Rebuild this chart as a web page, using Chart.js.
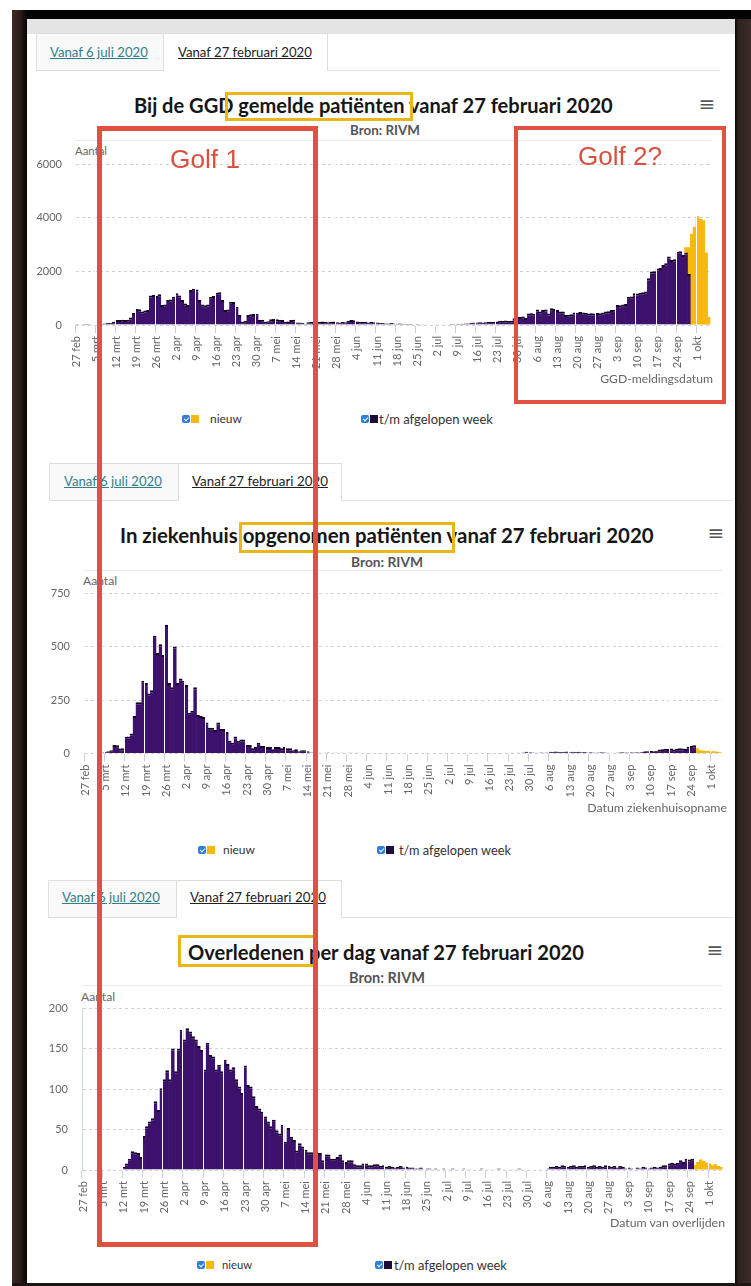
<!DOCTYPE html>
<html>
<head>
<meta charset="utf-8">
<script src="https://cdn.jsdelivr.net/npm/chart.js@4.4.1/dist/chart.umd.min.js"></script>
<style>
html,body{margin:0;padding:0;}
body{width:751px;height:1286px;position:relative;overflow:hidden;background:#fff;font-family:Lato,"Open Sans",sans-serif;}
.box{position:absolute;box-sizing:border-box;}
.t{position:absolute;white-space:nowrap;line-height:1;}
canvas{position:absolute;}
.tab1{position:absolute;box-sizing:border-box;background:#f9f9f9;border:1px solid #dedede;}
.tab2{position:absolute;box-sizing:border-box;background:#fff;border:1px solid #dedede;border-bottom:none;}
.tabline{position:absolute;height:1px;background:#e2e2e2;}
.lnk{color:#2f7f8c;text-decoration:underline;}
.act{color:#222;text-decoration:underline;}
.ttl{font-weight:700;color:#161616;}
.bron{font-weight:700;color:#555;}
.ax{color:#666;}
.lg{color:#333;}
.cb{position:absolute;width:8px;height:8px;border-radius:2px;background:#2f7fd6;}
.cb::after{content:"";position:absolute;left:2.6px;top:0.6px;width:2px;height:4.4px;border:solid #fff;border-width:0 1.4px 1.4px 0;transform:rotate(45deg);}
.sq{position:absolute;width:8px;height:8px;}
.red{position:absolute;box-sizing:border-box;border:5px solid #e2503f;z-index:20;}
.yel{position:absolute;box-sizing:border-box;border:3px solid #e8b617;z-index:15;}
.golf{font-family:"Liberation Sans",Arial,sans-serif;color:#d9503f;z-index:21;}
.ham{font-family:"DejaVu Sans",sans-serif;color:#555;}
</style>
</head>
<body>
<!-- frame -->
<div class="box" style="left:12px;top:10px;width:15px;height:1276px;background:linear-gradient(to right,#3d2925 0,#2b1c19 55%,#050303 100%);"></div>
<div class="box" style="left:26px;top:10px;width:725px;height:9px;background:#050505;"></div>
<div class="box" style="left:27px;top:19px;width:708px;height:15px;background:#e4e4e4;"></div>
<div class="box" style="left:735px;top:19px;width:16px;height:1267px;background:linear-gradient(to right,#0a0606 0,#2e211e 20%,#3b2c29 100%);"></div>
<div class="box" style="left:12px;top:1283px;width:739px;height:3px;background:#1d1514;"></div>

<!-- ===== Chart 1 ===== -->
<div class="tab1" style="left:36px;top:33px;width:128px;height:38px;"></div>
<div class="tab2" style="left:163px;top:33px;width:165px;height:38px;"></div>
<div class="tabline" style="left:328px;top:70px;width:392px;"></div>
<span class="t lnk" data-x="50" data-y="53" data-w="98" data-fs="12">Vanaf 6 juli 2020</span>
<span class="t act" data-x="178" data-y="53" data-w="134" data-fs="12">Vanaf 27 februari 2020</span>
<span class="t ttl" data-x="134" data-y="105" data-w="479" data-fs="18">Bij de GGD gemelde patiënten vanaf 27 februari 2020</span>
<span class="t bron" data-cx="385" data-y="131" data-w="70" data-fs="12">Bron: RIVM</span>
<span class="t ham" data-cx="707" data-y="104" data-fs="20">≡</span>
<span class="t ax" data-x="75" data-y="151" data-w="32" data-fs="11">Aantal</span>
<canvas id="c1" width="700" height="245" style="left:20px;top:140px;width:700px;height:245px;"></canvas>
<span class="t ax" data-rx="713" data-y="379" data-w="113" data-fs="11">GGD-meldingsdatum</span>
<div class="cb" style="left:182px;top:415px;"></div><div class="sq" style="left:190.5px;top:415px;background:#f7b90d;"></div>
<span class="t lg" data-x="210" data-y="419" data-w="32" data-fs="11">nieuw</span>
<div class="cb" style="left:361px;top:415px;"></div><div class="sq" style="left:369.5px;top:415px;background:#1d0b3a;"></div>
<span class="t lg" data-x="379" data-y="419" data-w="114" data-fs="11">t/m afgelopen week</span>

<!-- ===== Chart 2 ===== -->
<div class="tab1" style="left:49px;top:463px;width:130px;height:38px;"></div>
<div class="tab2" style="left:178px;top:463px;width:164px;height:38px;"></div>
<div class="tabline" style="left:342px;top:500px;width:391px;"></div>
<span class="t lnk" data-x="64" data-y="482" data-w="98" data-fs="12">Vanaf 6 juli 2020</span>
<span class="t act" data-x="192" data-y="482" data-w="136" data-fs="12">Vanaf 27 februari 2020</span>
<span class="t ttl" data-x="120" data-y="535" data-w="534" data-fs="18">In ziekenhuis opgenomen patiënten vanaf 27 februari 2020</span>
<span class="t bron" data-cx="387" data-y="562" data-w="72" data-fs="12">Bron: RIVM</span>
<span class="t ham" data-cx="716" data-y="533" data-fs="20">≡</span>
<span class="t ax" data-x="83" data-y="581" data-w="34" data-fs="11">Aantal</span>
<canvas id="c2" width="710" height="244" style="left:20px;top:570px;width:710px;height:244px;"></canvas>
<span class="t ax" data-rx="727" data-y="808" data-w="140" data-fs="11">Datum ziekenhuisopname</span>
<div class="cb" style="left:198px;top:846px;"></div><div class="sq" style="left:206.5px;top:846px;background:#f7b90d;"></div>
<span class="t lg" data-x="223" data-y="850" data-w="32" data-fs="11">nieuw</span>
<div class="cb" style="left:377px;top:846px;"></div><div class="sq" style="left:385.5px;top:846px;background:#1d0b3a;"></div>
<span class="t lg" data-x="399" data-y="850" data-w="112" data-fs="11">t/m afgelopen week</span>

<!-- ===== Chart 3 ===== -->
<div class="tab1" style="left:48px;top:880px;width:129px;height:38px;"></div>
<div class="tab2" style="left:176px;top:880px;width:166px;height:38px;"></div>
<div class="tabline" style="left:342px;top:917px;width:391px;"></div>
<span class="t lnk" data-x="62" data-y="898" data-w="98" data-fs="12">Vanaf 6 juli 2020</span>
<span class="t act" data-x="190" data-y="898" data-w="136" data-fs="12">Vanaf 27 februari 2020</span>
<span class="t ttl" data-x="188" data-y="952" data-w="396" data-fs="18">Overledenen per dag vanaf 27 februari 2020</span>
<span class="t bron" data-cx="387" data-y="978" data-w="76" data-fs="12">Bron: RIVM</span>
<span class="t ham" data-cx="715" data-y="950" data-fs="20">≡</span>
<span class="t ax" data-x="81" data-y="997" data-w="34" data-fs="11">Aantal</span>
<canvas id="c3" width="710" height="245" style="left:20px;top:985px;width:710px;height:245px;"></canvas>
<span class="t ax" data-rx="725" data-y="1223" data-w="115" data-fs="11">Datum van overlijden</span>
<div class="cb" style="left:197px;top:1261px;"></div><div class="sq" style="left:205.5px;top:1261px;background:#f7b90d;"></div>
<span class="t lg" data-x="222" data-y="1265" data-w="30" data-fs="11">nieuw</span>
<div class="cb" style="left:375px;top:1261px;"></div><div class="sq" style="left:383.5px;top:1261px;background:#1d0b3a;"></div>
<span class="t lg" data-x="394" data-y="1265" data-w="113" data-fs="11">t/m afgelopen week</span>

<!-- annotations -->
<div class="yel" style="left:225px;top:92px;width:188px;height:29px;"></div>
<div class="yel" style="left:239px;top:522px;width:216px;height:31px;"></div>
<div class="yel" style="left:178px;top:935px;width:138px;height:32px;"></div>
<div class="red" style="left:97px;top:126px;width:221px;height:1121px;"></div>
<div class="red" style="left:514px;top:126px;width:212px;height:278px;border-width:4px;"></div>
<span class="t golf" data-cx="205" data-y="159" data-w="70" data-fs="24">Golf 1</span>
<span class="t golf" data-cx="620" data-y="156" data-w="84" data-fs="24">Golf 2?</span>

<script>
// ---------- data ----------
const weekLabels = ['27 feb','5 mrt','12 mrt','19 mrt','26 mrt','2 apr','9 apr','16 apr','23 apr','30 apr',
  '7 mei','14 mei','21 mei','28 mei','4 jun','11 jun','18 jun','25 jun','2 jul','9 jul','16 jul','23 jul','30 jul',
  '6 aug','13 aug','20 aug','27 aug','3 sep','10 sep','17 sep','24 sep','1 okt'];
const monthNames = ['jan','feb','mrt','apr','mei','jun','jul','aug','sep','okt','nov','dec'];

// Bij de GGD gemelde patiënten (per dag vanaf 27 feb)
const ggdWeek = [1,0,5,4,4,6,14,14,20,44,
  60,80,70,120,190,190,200,190,200,280,
  450,600,590,500,540,560,1100,1120,1080,1150,
  750,760,930,950,1050,1180,1100,930,800,750,
  1300,1350,1320,930,760,740,760,1050,1080,1200,
  1220,930,560,580,870,860,680,370,120,150,
  370,400,410,420,190,200,120,140,210,220,
  210,200,190,120,130,190,200,90,90,80,
  40,100,110,100,120,110,130,120,100,110,
  130,100,90,110,100,150,190,180,130,110,
  120,110,90,120,100,90,80,70,60,60,
  70,60,50,60,50,40,40,40,30,40,
  30,30,20,20,15,20,10,0,0,10,
  15,40,40,50,40,50,60,60,80,90,
  90,100,90,100,110,120,110,130,160,150,
  170,150,160,250,310,300,320,260,430,440,
  420,580,500,560,580,430,620,600,560,500,
  500,370,380,400,470,460,480,470,460,430,
  440,430,450,440,470,500,510,560,570,750,
  740,760,780,1050,1060,1180,1170,1200,1220,1250,
  1740,1990,2000,2110,2120,2240,2300,2550,2420,2450,
  2730,2750,2610,2700,1900,0,0,0,0,0,
  0,0];
const ggdNewStart = 213;
const ggdNew = [200,1000,3400,3650,4050,3950,3900,2700,300];

// In ziekenhuis opgenomen patiënten
const hospWeek = [0,0,1,0,1,2,5,8,10,15,
  40,38,23,25,78,80,93,175,240,240,
  340,330,280,295,550,470,510,460,600,330,
  310,500,330,350,340,320,190,200,310,180,
  175,170,145,120,120,110,145,115,115,100,
  60,50,80,60,65,65,40,40,25,30,
  50,35,35,30,30,20,30,30,25,30,
  25,25,15,20,10,15,15,10,5,5,
  3,4,2,3,5,2,3,4,2,3,
  2,4,3,2,3,2,1,2,2,1,
  0,1,1,0,1,0,1,0,1,0,
  1,0,0,1,0,1,0,0,1,0,
  0,1,0,0,1,0,0,1,0,0,
  1,0,0,1,0,0,1,0,1,1,
  0,1,2,1,1,2,1,2,3,2,
  3,4,5,8,6,5,3,4,5,3,
  5,8,7,9,8,7,8,9,6,8,
  7,8,6,7,5,6,5,4,5,6,
  5,4,3,2,3,5,6,5,5,6,
  5,6,5,7,11,10,12,11,13,19,
  20,22,21,23,19,22,24,23,21,31,
  35,39,0,0,0,0,0,0,0,0,
  0];
const hospNewStart = 212;
const hospNew = [25,15,14,12,13,10,11,8,6];

// Overledenen per dag
const deathsWeek = [0,0,0,0,0,0,0,0,0,1,
  1,0,0,1,4,8,14,23,22,21,
  16,42,54,60,64,85,74,101,112,123,
  112,150,122,150,173,161,175,171,165,161,
  153,148,124,157,142,140,124,130,122,136,
  131,124,127,112,103,95,129,105,103,91,
  79,76,72,66,60,54,62,49,45,56,
  35,52,41,37,24,33,29,25,22,22,
  20,21,21,12,19,19,14,14,16,19,
  12,10,12,12,7,6,6,8,8,6,
  6,7,7,5,6,4,5,4,3,4,
  5,3,4,3,3,2,2,3,1,2,
  2,1,2,1,0,2,1,1,2,0,
  1,1,2,1,1,0,1,1,2,0,
  1,1,0,1,2,0,1,0,1,1,
  0,2,1,0,0,1,0,0,1,0,
  1,2,4,4,5,4,6,5,4,5,
  6,4,5,5,6,4,5,6,4,5,
  4,6,5,4,5,3,5,4,2,3,
  2,0,3,2,4,3,2,3,4,3,
  4,6,6,8,9,8,9,12,10,14,
  13,14,0,0,0,0,0,0,0,0,
  0,0];
const deathsNewStart = 212;
const deathsNew = [6,10,13,11,9,8,6,7,5,4];

const yTicks1 = [0,2000,4000,6000];
const yTicks2 = [0,250,500,750];
const yTicks3 = [0,50,100,150,200];

// ---------- text placement ----------
document.querySelectorAll('.t').forEach(el => {
  const d = el.dataset;
  let fs = parseFloat(d.fs || 12);
  el.style.fontSize = fs + 'px';
  if (d.w) {
    const w0 = el.getBoundingClientRect().width;
    if (w0 > 0) { fs = fs * parseFloat(d.w) / w0; el.style.fontSize = fs + 'px'; }
  }
  const r = el.getBoundingClientRect();
  let left;
  if (d.cx) left = parseFloat(d.cx) - r.width / 2;
  else if (d.rx) left = parseFloat(d.rx) - r.width;
  else left = parseFloat(d.x);
  el.style.left = left + 'px';
  el.style.top = (parseFloat(d.y) - r.height / 2) + 'px';
});

// ---------- charts ----------
Chart.defaults.font.family = 'Lato, "Open Sans", sans-serif';

function dayLabels(n) {
  const out = [];
  const d = new Date(2020, 1, 27);
  for (let i = 0; i < n; i++) { out.push(d.getDate() + ' ' + monthNames[d.getMonth()]); d.setDate(d.getDate() + 1); }
  return out;
}

function makeChart(id, week, newStart, newVals, yTicks, geo) {
  const n = week.length;
  const newData = week.map(() => null);
  newVals.forEach((v, k) => { newData[newStart + k] = v; });
  const yMax = yTicks[yTicks.length - 1];
  const step = yTicks[1] - yTicks[0];
  return new Chart(document.getElementById(id), {
    type: 'bar',
    data: {
      labels: dayLabels(n),
      datasets: [
        { label: 't/m afgelopen week', data: week, backgroundColor: '#3d126c', borderColor: '#130620',
          borderWidth: { top: 2, left: 0, right: 0, bottom: 0 }, borderSkipped: false, inflateAmount: 0,
          barThickness: geo.bar },
        { label: 'nieuw', data: newData, backgroundColor: '#f7b90d', borderWidth: 0, inflateAmount: 0,
          barThickness: geo.bar }
      ]
    },
    options: {
      responsive: false, animation: false, maintainAspectRatio: false,
      layout: { padding: { left: 0, right: geo.padRight, top: geo.padTop, bottom: 0 } },
      plugins: { legend: { display: false }, tooltip: { enabled: false }, title: { display: false } },
      scales: {
        x: {
          stacked: true, offset: true,
          grid: { offset: true, z: 1, lineWidth: 1, drawTicks: true, tickLength: 8,
            color: c => (c.index % 7 === 0 ? '#ffffff' : 'rgba(0,0,0,0)'),
            tickColor: c => (c.index % 7 === 0 ? '#c9d1e0' : 'rgba(0,0,0,0)') },
          border: { display: true, color: '#ccd6eb', width: 1 },
          ticks: { autoSkip: false, minRotation: 90, maxRotation: 90, padding: 3, color: '#666', font: { size: 11 },
            callback: (v, i) => (i % 7 === 0 && weekLabels[i / 7] ? weekLabels[i / 7] : '') },
          afterFit: s => { s.height = geo.xAxisH; s.paddingLeft = 0; s.paddingRight = 0; }
        },
        y: {
          stacked: true, min: 0, max: yMax,
          afterBuildTicks: s => { s.ticks = yTicks.map(v => ({ value: v })); },
          ticks: { padding: geo.yPad, color: '#666', font: { size: 11 }, callback: v => String(v) },
          grid: { color: '#d2d2d2', lineWidth: 1, drawTicks: false },
          border: { display: true, color: '#ccd6eb', width: 1, dash: [3, 3] },
          afterFit: s => { s.width = geo.yAxisW; }
        }
      }
    }
  });
}

makeChart('c1', ggdWeek, ggdNewStart, ggdNew, yTicks1, { yAxisW: 55, padRight: 9.6, padTop: 24, xAxisH: 60, yPad: 13, bar: 3.7 });
makeChart('c2', hospWeek, hospNewStart, hospNew, yTicks2, { yAxisW: 64, padRight: 8.4, padTop: 23, xAxisH: 60.5, yPad: 14, bar: 3.7 });
makeChart('c3', deathsWeek, deathsNewStart, deathsNew, yTicks3, { yAxisW: 62, padRight: 7.5, padTop: 23, xAxisH: 60, yPad: 14, bar: 3.7 });
</script>
</body>
</html>
